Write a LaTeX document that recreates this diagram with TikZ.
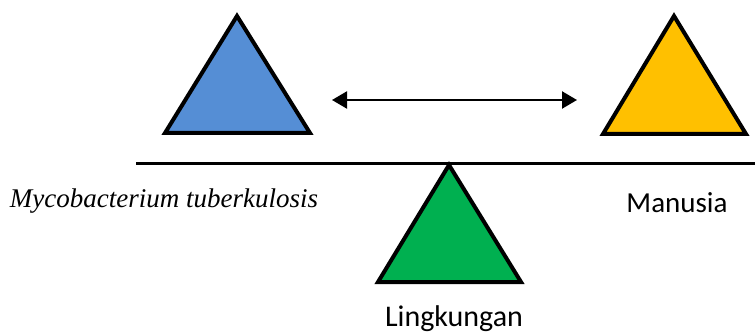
\documentclass[tikz,border=0pt]{standalone}
\usepackage{fontspec}
\setmainfont{Carlito}
\newfontfamily\timesfont{Liberation Serif}
\usetikzlibrary{arrows.meta}
\definecolor{triblue}{RGB}{85,142,213}
\definecolor{triorange}{RGB}{255,192,0}
\definecolor{trigreen}{RGB}{0,176,80}
\tikzset{
  tri/.style={draw=black, line width=4pt, line join=miter},
  lbl/.style={inner sep=0pt, font=\fontsize{29}{32}\selectfont},
  beam/.style={line width=3pt},
  link/.style={line width=2.2pt, {Triangle[length=15pt,width=17pt]}-{Triangle[length=15pt,width=17pt]}}
}
\begin{document}
\begin{tikzpicture}[x=1pt,y=-1pt]
\useasboundingbox (0,0) rectangle (755,334);
% triangles
\coordinate (bA) at (237,16); \coordinate (bL) at (165,133); \coordinate (bR) at (310,133);
\fill[triblue] (bA) -- (bL) -- (bR) -- cycle;
\draw[tri] (bA) -- (bL) -- (bR) -- cycle;
\coordinate (oA) at (674,16); \coordinate (oL) at (603,134); \coordinate (oR) at (746,134);
\fill[triorange] (oA) -- (oL) -- (oR) -- cycle;
\draw[tri] (oA) -- (oL) -- (oR) -- cycle;
\coordinate (gA) at (449,165); \coordinate (gL) at (378,282); \coordinate (gR) at (521,282);
\fill[trigreen] (gA) -- (gL) -- (gR) -- cycle;
\draw[tri] (gA) -- (gL) -- (gR) -- cycle;
% beam
\coordinate (beamL) at (136,164); \coordinate (beamR) at (755,164);
\draw[beam] (beamL) -- (beamR);
% arrow
\coordinate (arL) at (332,100); \coordinate (arR) at (577,100);
\draw[link] (arL) -- (arR);
% labels
\node[lbl, font=\timesfont\itshape\fontsize{27}{30}\selectfont] (myco) at (164,201) {Mycobacterium tuberkulosis};
\node[lbl] (manusia) at (677,203) {Manusia};
\node[lbl, font=\fontsize{30}{32}\selectfont] (lingk) at (454,319) {Lingkungan};
\end{tikzpicture}
\end{document}
